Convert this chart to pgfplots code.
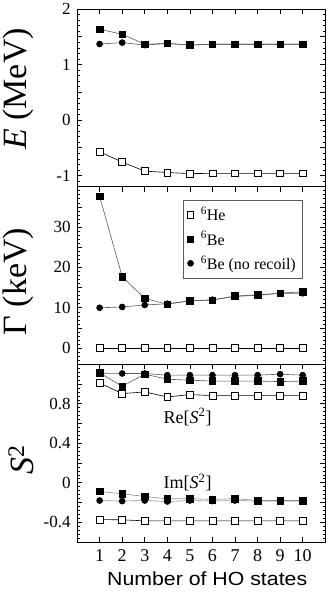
\documentclass[border=0pt]{standalone}
\usepackage{fontspec}
\setmainfont{Liberation Serif}
\newfontfamily\labsans[FakeStretch=1.12]{Liberation Sans}
\usepackage{pgfplots}
\pgfplotsset{compat=1.18}
\usepgfplotslibrary{groupplots}
\usetikzlibrary{calc}
\definecolor{cLine}{gray}{0.35}

\pgfplotsset{
  panel/.style={
    width=248pt, height=177.5pt, scale only axis,
    xmin=0, xmax=11, xtick={1,...,10},
    tick align=inside,
    major tick length=5pt, minor tick length=2.5pt,
    axis line style={line width=0.8pt},
    every tick/.style={line width=0.6pt, black},
    /pgf/number format/assume math mode=true,
    yticklabel style={font=\fontsize{17}{17}\selectfont, xshift=-3pt},
    xticklabel style={font=\fontsize{18}{18}\selectfont, yshift=-4pt},
    every axis y label/.style={at={(rel axis cs:-0.161,0.5)}, rotate=90,
      anchor=south, font=\fontsize{34}{34}\selectfont},
  },
  he/.style={black, line width=0.6pt, mark=square*,
    mark options={fill=white, draw=black, line width=0.7pt}, mark size=3.4pt},
  be/.style={cLine, line width=0.6pt, mark=square*,
    mark options={fill=black, draw=black}, mark size=3.3pt},
  nr/.style={cLine, line width=0.6pt, mark=*,
    mark options={fill=black, draw=black}, mark size=3pt},
}

\begin{document}
\begin{tikzpicture}
\begin{groupplot}[group style={group size=1 by 3, vertical sep=0pt}, panel]

% energies
\nextgroupplot[
  ymin=-1.2, ymax=2,
  ytick={-1,-0.5,...,2}, yticklabels={-1,,0,,1,,2},
  minor ytick={-1.2,-1.1,...,2},
  xtick pos=upper, xticklabels={},
  ylabel={\textit{E} (MeV)},
  ylabel style={at={(rel axis cs:-0.161,0.55)}},
]
\addplot[he] coordinates {(1,-0.572)(2,-0.758)(3,-0.92)(4,-0.945)(5,-0.965)
  (6,-0.96)(7,-0.96)(8,-0.96)(9,-0.96)(10,-0.96)};
\addplot[nr] coordinates {(1,1.37)(2,1.395)(3,1.35)(4,1.38)(5,1.35)
  (6,1.365)(7,1.365)(8,1.365)(9,1.365)(10,1.365)};
\addplot[be] coordinates {(1,1.635)(2,1.545)(3,1.365)(4,1.38)(5,1.35)
  (6,1.365)(7,1.365)(8,1.365)(9,1.365)(10,1.365)};

% widths
\nextgroupplot[
  ymin=-4, ymax=40,
  ytick={0,5,...,35}, yticklabels={0,,10,,20,,30,},
  minor ytick={-4,-3,...,40},
  xtick pos=upper, xticklabels={},
  ylabel={Γ (keV)},
  ylabel style={at={(rel axis cs:-0.161,0.465)}},
  legend style={at={(rel axis cs:0.427,0.925)}, anchor=north west,
    draw=black!65, line width=0.6pt, font=\fontsize{16}{16}\selectfont,
    legend cell align=left, row sep=5pt, inner xsep=4pt, inner ysep=5pt},
]
\addlegendimage{only marks, mark=square*, mark options={fill=white, draw=black, line width=0.7pt}, mark size=3.2pt}
\addlegendentry{\hspace*{5pt}\textsuperscript{6}He}
\addlegendimage{only marks, mark=square*, mark options={fill=black, draw=black}, mark size=3.1pt}
\addlegendentry{\hspace*{5pt}\textsuperscript{6}Be}
\addlegendimage{only marks, mark=*, mark options={fill=black, draw=black}, mark size=3pt}
\addlegendentry{\hspace*{5pt}\textsuperscript{6}Be (no recoil)}
\addplot[he, forget plot] coordinates {(1,0)(2,0)(3,0)(4,0)(5,0)
  (6,0)(7,0)(8,0)(9,0)(10,0)};
\addplot[nr, forget plot] coordinates {(1,10.0)(2,10.2)(3,10.7)(4,11.0)(5,11.7)
  (6,12.0)(7,12.8)(8,13.1)(9,13.6)(10,13.6)};
\addplot[be, forget plot] coordinates {(1,37.6)(2,17.7)(3,12.3)(4,10.9)(5,11.7)
  (6,11.9)(7,12.9)(8,13.2)(9,13.6)(10,14.0)};

% spectroscopic factors
\nextgroupplot[
  ymin=-0.6, ymax=1.2,
  ytick={-0.6,-0.4,...,1.2}, yticklabels={,-0.4,,0,,0.4,,0.8,,},
  minor ytick={-0.6,-0.56,...,1.2},
  xtick pos=both, xticklabel pos=lower,
  ylabel={\textit{S}\textsuperscript{2}},
  ylabel style={at={(rel axis cs:-0.161,0.465)}},
  xlabel={\labsans Number of HO states},
  xlabel style={font=\fontsize{19}{19}\selectfont, yshift=-3pt, xshift=6pt},
]
\addplot[he] coordinates {(1,1.011)(2,0.903)(3,0.92)(4,0.869)(5,0.893)
  (6,0.883)(7,0.883)(8,0.883)(9,0.883)(10,0.883)};
\addplot[nr] coordinates {(1,1.11)(2,1.107)(3,1.107)(4,1.09)(5,1.09)
  (6,1.09)(7,1.09)(8,1.09)(9,1.10)(10,1.09)};
\addplot[be] coordinates {(1,1.113)(2,0.978)(3,1.10)(4,1.049)(5,1.039)
  (6,1.03)(7,1.03)(8,1.03)(9,1.025)(10,1.03)};
\addplot[he] coordinates {(1,-0.373)(2,-0.376)(3,-0.386)(4,-0.386)(5,-0.386)
  (6,-0.386)(7,-0.386)(8,-0.386)(9,-0.386)(10,-0.386)};
\addplot[nr, black!45] coordinates {(1,-0.18)(2,-0.186)(3,-0.18)(4,-0.19)(5,-0.18)
  (6,-0.186)(7,-0.18)(8,-0.186)(9,-0.186)(10,-0.186)};
\addplot[be, black!45] coordinates {(1,-0.088)(2,-0.112)(3,-0.139)(4,-0.163)(5,-0.16)
  (6,-0.17)(7,-0.16)(8,-0.18)(9,-0.18)(10,-0.18)};
\node[font=\fontsize{18}{18}\selectfont] at (axis cs:4.9,0.666) {Re[\textit{S}\textsuperscript{2}]};
\node[font=\fontsize{18}{18}\selectfont] at (axis cs:4.9,0.0) {Im[\textit{S}\textsuperscript{2}]};
\end{groupplot}
\pgfresetboundingbox
\path ($(group c1r3.south west)+(-77pt,-55pt)$) rectangle ($(group c1r1.north east)+(7pt,9pt)$);
\end{tikzpicture}
\end{document}
